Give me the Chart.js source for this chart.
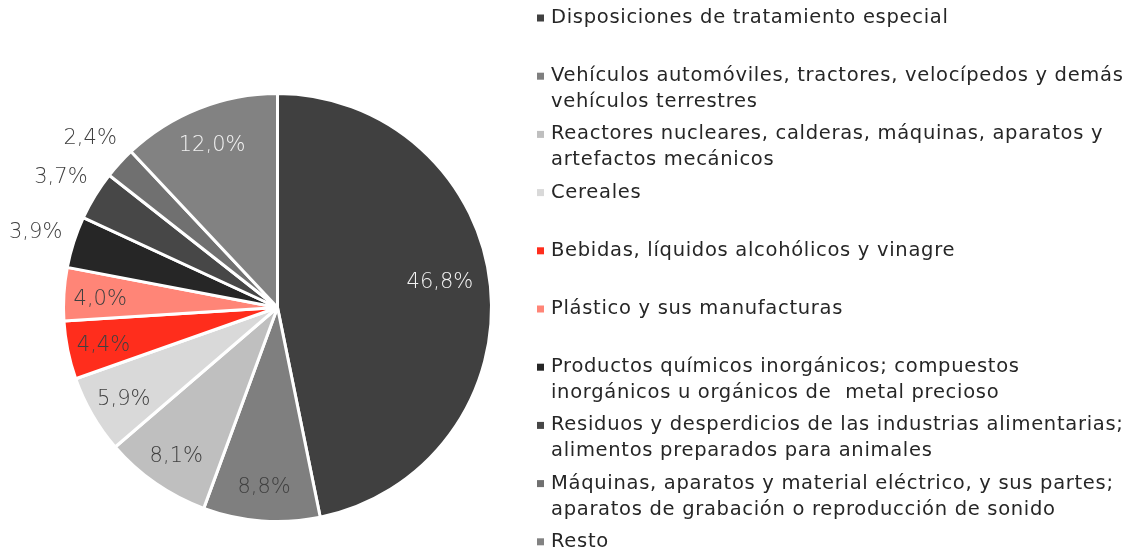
<!DOCTYPE html>
<html>
<head>
<meta charset="utf-8">
<script src="https://cdn.jsdelivr.net/npm/chart.js@4.4.1/dist/chart.umd.min.js"></script>
<style>
  html, body { margin: 0; padding: 0; background: #fff; }
  #wrap { position: relative; width: 1135px; height: 554px; }
</style>
</head>
<body>
<div id="wrap"><canvas id="pie"></canvas></div>
<script>
// categories (legend lines as in the original)
const categories = [
    ['Disposiciones de tratamiento especial'],
    ['Vehículos automóviles, tractores, velocípedos y demás', 'vehículos terrestres'],
    ['Reactores nucleares, calderas, máquinas, aparatos y', 'artefactos mecánicos'],
    ['Cereales'],
    ['Bebidas, líquidos alcohólicos y vinagre'],
    ['Plástico y sus manufacturas'],
    ['Productos químicos inorgánicos; compuestos', 'inorgánicos u orgánicos de  metal precioso'],
    ['Residuos y desperdicios de las industrias alimentarias;', 'alimentos preparados para animales'],
    ['Máquinas, aparatos y material eléctrico, y sus partes;', 'aparatos de grabación o reproducción de sonido'],
    ['Resto']
]
const shares = [46.8, 8.8, 8.1, 5.9, 4.4, 4.0, 3.9, 3.7, 2.4, 12.0]

const sliceColors = ['#404040', '#7f7f7f', '#bfbfbf', '#d9d9d9', '#ff2d1c', '#ff8577', '#262626', '#474747', '#707070', '#828282']
const labelColors = ['#f2f2f2', '#404040', '#404040', '#404040', '#404040', '#404040', '#404040', '#404040', '#404040', '#f2f2f2']
const FONT = '"DejaVu Sans", sans-serif'

// percent labels: inside the slice, small ones outside
const pctLabels = {
    id: 'pctLabels',
    afterDatasetsDraw(chart) {
        const ctx = chart.ctx
        const meta = chart.getDatasetMeta(0)
        ctx.save()
        ctx.font = '200 21px ' + FONT
        ctx.textAlign = 'center'
        ctx.textBaseline = 'middle'
        meta.data.forEach(function (arc, i) {
            const v = shares[i]
            let mid = (arc.startAngle + arc.endAngle) / 2
            let r = arc.outerRadius * 0.83
            if (v > 40) {
                r = arc.outerRadius * 0.77
                mid -= 0.07
            }
            let color = labelColors[i]
            if (v < 3.95) {
                r = arc.outerRadius + 40
                color = '#404040'
            }
            ctx.fillStyle = color
            const txt = v.toFixed(1).replace('.', ',') + '%'
            ctx.fillText(txt, arc.x + Math.cos(mid) * r, arc.y + Math.sin(mid) * r + 3)
        })
        ctx.restore()
    }
}

// legend on the right, with wrapped labels
const sideLegend = {
    id: 'sideLegend',
    afterDraw(chart) {
        const ctx = chart.ctx
        const labels = chart.data.labels
        const colors = chart.data.datasets[0].backgroundColor
        ctx.save()
        ctx.font = '19.5px ' + FONT
        ctx.letterSpacing = '0.7px'
        ctx.textBaseline = 'middle'
        ctx.textAlign = 'left'
        labels.forEach(function (lines, i) {
            const y = 18 + i * 58.2
            ctx.fillStyle = colors[i]
            ctx.fillRect(537, y - 3.5, 7, 7)
            ctx.fillStyle = '#262626'
            lines.forEach(function (line, k) {
                ctx.fillText(line, 551, y + k * 26)
            })
        })
        ctx.restore()
    }
}

new Chart(document.getElementById('pie'), {
    type: 'pie',
    data: {
        labels: categories,
        datasets: [{
            data: shares,
            backgroundColor: sliceColors,
            borderColor: '#ffffff',
            borderWidth: 3
        }]
    },
    options: {
        responsive: true,
        maintainAspectRatio: false,
        animation: false,
        layout: {
            padding: { left: 62, top: 92, right: 642, bottom: 31 }
        },
        plugins: {
            legend: { display: false },
            tooltip: { enabled: false }
        }
    },
    plugins: [pctLabels, sideLegend]
});
</script>
</body>
</html>
